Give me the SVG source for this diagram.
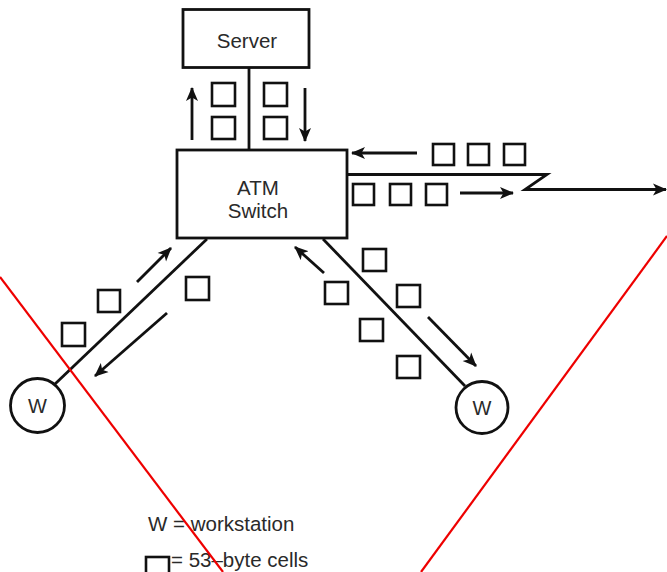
<svg xmlns="http://www.w3.org/2000/svg" width="667" height="572" viewBox="0 0 667 572">
<defs>
<marker id="ah" markerWidth="14" markerHeight="14" refX="13" refY="7" orient="auto" markerUnits="userSpaceOnUse">
<path d="M0,1 L14,7 L0,13 L3.5,7 Z" fill="#111"/>
</marker>
</defs>
<style>
.box{fill:#fff;stroke:#111;stroke-width:2.8}
.cell{fill:none;stroke:#111;stroke-width:2.6}
.ln{fill:none;stroke:#111;stroke-width:2.8}
.arr{fill:none;stroke:#111;stroke-width:2.8;marker-end:url(#ah)}
.t{font-family:"Liberation Sans",Arial,sans-serif;fill:#2a2a2a;text-anchor:middle}
.lg{font-family:"Liberation Sans",Arial,sans-serif;fill:#2a2a2a;font-size:20.5px}
.red{stroke:#e00;stroke-width:2.2;fill:none}
</style>
<rect width="667" height="572" fill="#fff"/>
<g id="connectors">
<line class="ln" x1="249" y1="68" x2="249" y2="150"/>
<path class="arr" d="M347,174.5 H547 L525,189.5 H666"/>
<line class="ln" x1="207" y1="239" x2="55" y2="384"/>
<line class="ln" x1="323" y1="239" x2="465" y2="386"/>
</g>
<g id="arrows">
<line class="arr" x1="192" y1="140" x2="192" y2="88"/>
<line class="arr" x1="305" y1="88" x2="305" y2="141"/>
<line class="arr" x1="417" y1="153" x2="352" y2="153"/>
<line class="arr" x1="460" y1="193" x2="513" y2="193"/>
<line class="arr" x1="137" y1="282" x2="171" y2="248"/>
<line class="arr" x1="167" y1="313" x2="95" y2="376"/>
<line class="arr" x1="324" y1="273" x2="295" y2="247"/>
<line class="arr" x1="428" y1="317" x2="476" y2="366"/>
</g>
<g id="cells">
<rect class="cell" x="212" y="83" width="23" height="23"/>
<rect class="cell" x="212" y="117" width="23" height="22"/>
<rect class="cell" x="264" y="83" width="23" height="23"/>
<rect class="cell" x="264" y="117" width="23" height="22"/>
<rect class="cell" x="433" y="144" width="21" height="21"/>
<rect class="cell" x="468" y="144" width="21" height="21"/>
<rect class="cell" x="504" y="144" width="21" height="21"/>
<rect class="cell" x="353" y="184" width="21" height="21"/>
<rect class="cell" x="390" y="184" width="21" height="21"/>
<rect class="cell" x="426" y="184" width="21" height="21"/>
<rect class="cell" x="98" y="290" width="22" height="22"/>
<rect class="cell" x="62" y="323" width="23" height="23"/>
<rect class="cell" x="186" y="277" width="23" height="23"/>
<rect class="cell" x="363" y="249" width="23" height="22"/>
<rect class="cell" x="325" y="282" width="23" height="22"/>
<rect class="cell" x="397" y="285" width="23" height="22"/>
<rect class="cell" x="360" y="319" width="23" height="22"/>
<rect class="cell" x="397" y="356" width="23" height="22"/>
</g>
<g id="server">
<rect class="box" x="183" y="9.5" width="126" height="58"/>
<text class="t" x="247" y="48" font-size="20.5">Server</text>
</g>
<g id="atm-switch">
<rect class="box" x="177" y="150" width="170" height="88"/>
<text class="t" x="258" y="195" font-size="20.5">ATM</text>
<text class="t" x="258" y="218" font-size="20.5">Switch</text>
</g>
<g id="ws-left">
<circle class="box" cx="37.5" cy="405.5" r="27"/>
<text class="t" x="37.5" y="413" font-size="20">W</text>
</g>
<g id="ws-right">
<circle class="box" cx="482" cy="407.5" r="26"/>
<text class="t" x="482" y="415" font-size="20">W</text>
</g>
<g id="legend">
<text class="lg" x="148" y="531">W = workstation</text>
<rect class="cell" x="146" y="557" width="23" height="22"/>
<text class="lg" x="171" y="567">= 53–byte cells</text>
</g>
<g id="overlay">
<line class="red" x1="0" y1="277" x2="223" y2="572"/>
<line class="red" x1="667" y1="236" x2="421" y2="572"/>
</g>
</svg>
